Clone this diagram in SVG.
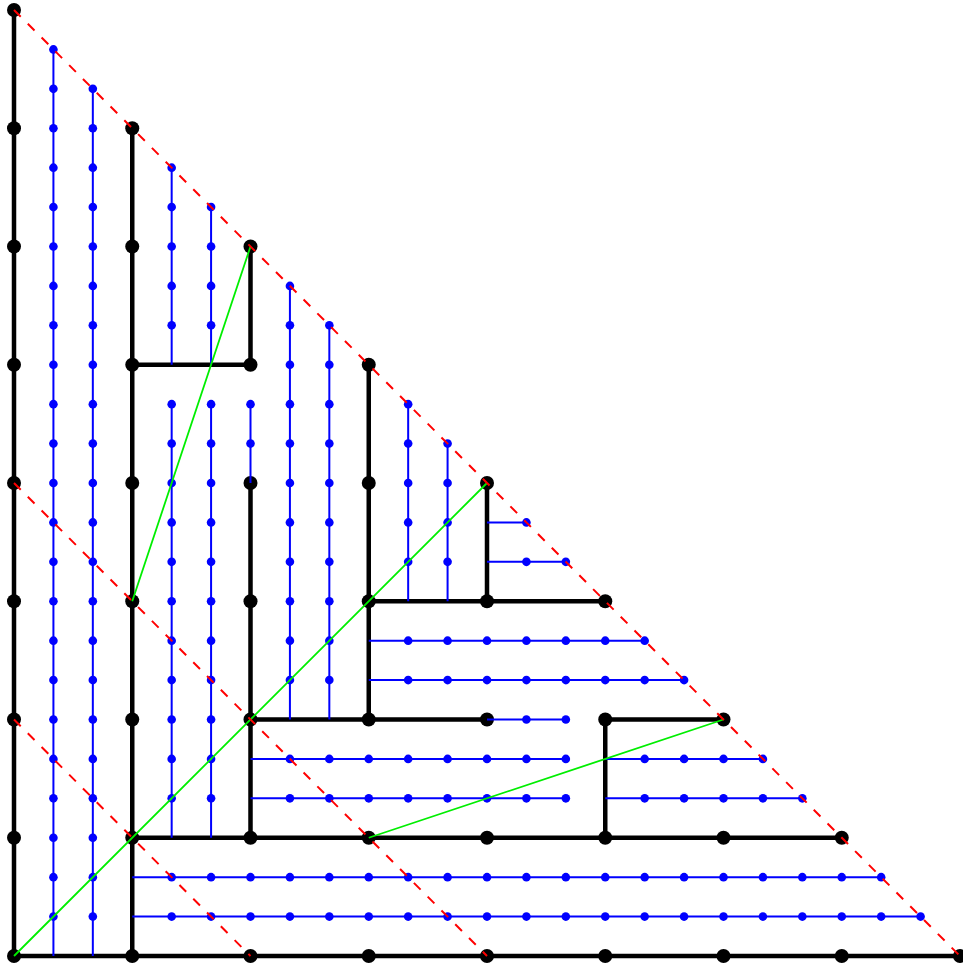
<svg xmlns="http://www.w3.org/2000/svg" width="963" height="968" viewBox="0 0 963 968">
<style>
.blk{stroke:#000;stroke-width:4.5;fill:none;stroke-linecap:butt}
.bd{fill:#000}
.blu{stroke:#0000ff;stroke-width:2;fill:none}
.sd{fill:#0000ff}
.grn{stroke:#00ee00;stroke-width:1.8;fill:none}
.red{stroke:#ff0000;stroke-width:2;fill:none;stroke-dasharray:9.5 10}
</style>
<rect width="963" height="968" fill="#fff"/>
<g id="black-lines">
<path class="blk" d="M14,956V10 M14,956H960 M132.25,956V128.25 M132.25,364.75H250.5V246.5 M250.5,837.75V483 M132.25,837.75H841.75 M368.75,719.5V364.75 M368.75,601.25H605.25 M487,601.25V483 M250.5,719.5H487 M605.25,837.75V719.5H723.5"/>
</g>
<g id="black-dots" class="bd">
<circle cx="14" cy="956" r="7"/><circle cx="14" cy="837.75" r="7"/><circle cx="14" cy="719.5" r="7"/><circle cx="14" cy="601.25" r="7"/><circle cx="14" cy="483" r="7"/><circle cx="14" cy="364.75" r="7"/><circle cx="14" cy="246.5" r="7"/><circle cx="14" cy="128.25" r="7"/><circle cx="14" cy="10" r="7"/>
<circle cx="132.25" cy="956" r="7"/><circle cx="250.5" cy="956" r="7"/><circle cx="368.75" cy="956" r="7"/><circle cx="487" cy="956" r="7"/><circle cx="605.25" cy="956" r="7"/><circle cx="723.5" cy="956" r="7"/><circle cx="841.75" cy="956" r="7"/><circle cx="960" cy="956" r="7"/>
<circle cx="132.25" cy="837.75" r="7"/><circle cx="132.25" cy="719.5" r="7"/><circle cx="132.25" cy="601.25" r="7"/><circle cx="132.25" cy="483" r="7"/><circle cx="132.25" cy="364.75" r="7"/><circle cx="132.25" cy="246.5" r="7"/><circle cx="132.25" cy="128.25" r="7"/>
<circle cx="250.5" cy="364.75" r="7"/><circle cx="250.5" cy="246.5" r="7"/>
<circle cx="250.5" cy="837.75" r="7"/><circle cx="250.5" cy="719.5" r="7"/><circle cx="250.5" cy="601.25" r="7"/><circle cx="250.5" cy="483" r="7"/>
<circle cx="368.75" cy="837.75" r="7"/><circle cx="487" cy="837.75" r="7"/><circle cx="605.25" cy="837.75" r="7"/><circle cx="723.5" cy="837.75" r="7"/><circle cx="841.75" cy="837.75" r="7"/>
<circle cx="368.75" cy="719.5" r="7"/><circle cx="368.75" cy="601.25" r="7"/><circle cx="368.75" cy="483" r="7"/><circle cx="368.75" cy="364.75" r="7"/>
<circle cx="487" cy="601.25" r="7"/><circle cx="605.25" cy="601.25" r="7"/><circle cx="487" cy="483" r="7"/>
<circle cx="487" cy="719.5" r="7"/><circle cx="605.25" cy="719.5" r="7"/><circle cx="723.5" cy="719.5" r="7"/>
</g>
<g id="blue-lines">
<path class="blu" d="M53.42,956V49.42 M92.83,956V88.83 M171.67,364.75V167.67 M171.67,837.75V404.17 M211.08,364.75V207.08 M211.08,837.75V404.17 M250.5,483V404.17 M289.92,719.5V285.92 M329.33,719.5V325.33 M408.17,601.25V404.17 M447.58,601.25V443.58 M487,522.42H526.42 M487,561.83H565.83 M368.75,640.67H644.67 M368.75,680.08H684.08 M487,719.5H565.83 M250.5,758.92H565.83 M605.25,758.92H762.92 M250.5,798.33H565.83 M605.25,798.33H802.33 M132.25,877.17H881.17 M132.25,916.58H920.58"/>
</g>
<g id="blue-dots" class="sd">
<circle cx="53.42" cy="916.58" r="4.3"/><circle cx="53.42" cy="877.17" r="4.3"/><circle cx="53.42" cy="837.75" r="4.3"/><circle cx="53.42" cy="798.33" r="4.3"/><circle cx="53.42" cy="758.92" r="4.3"/><circle cx="53.42" cy="719.5" r="4.3"/><circle cx="53.42" cy="680.08" r="4.3"/><circle cx="53.42" cy="640.67" r="4.3"/><circle cx="53.42" cy="601.25" r="4.3"/><circle cx="53.42" cy="561.83" r="4.3"/><circle cx="53.42" cy="522.42" r="4.3"/><circle cx="53.42" cy="483" r="4.3"/><circle cx="53.42" cy="443.58" r="4.3"/><circle cx="53.42" cy="404.17" r="4.3"/><circle cx="53.42" cy="364.75" r="4.3"/><circle cx="53.42" cy="325.33" r="4.3"/><circle cx="53.42" cy="285.92" r="4.3"/><circle cx="53.42" cy="246.5" r="4.3"/><circle cx="53.42" cy="207.08" r="4.3"/><circle cx="53.42" cy="167.67" r="4.3"/><circle cx="53.42" cy="128.25" r="4.3"/><circle cx="53.42" cy="88.83" r="4.3"/><circle cx="53.42" cy="49.42" r="4.3"/>
<circle cx="92.83" cy="916.58" r="4.3"/><circle cx="92.83" cy="877.17" r="4.3"/><circle cx="92.83" cy="837.75" r="4.3"/><circle cx="92.83" cy="798.33" r="4.3"/><circle cx="92.83" cy="758.92" r="4.3"/><circle cx="92.83" cy="719.5" r="4.3"/><circle cx="92.83" cy="680.08" r="4.3"/><circle cx="92.83" cy="640.67" r="4.3"/><circle cx="92.83" cy="601.25" r="4.3"/><circle cx="92.83" cy="561.83" r="4.3"/><circle cx="92.83" cy="522.42" r="4.3"/><circle cx="92.83" cy="483" r="4.3"/><circle cx="92.83" cy="443.58" r="4.3"/><circle cx="92.83" cy="404.17" r="4.3"/><circle cx="92.83" cy="364.75" r="4.3"/><circle cx="92.83" cy="325.33" r="4.3"/><circle cx="92.83" cy="285.92" r="4.3"/><circle cx="92.83" cy="246.5" r="4.3"/><circle cx="92.83" cy="207.08" r="4.3"/><circle cx="92.83" cy="167.67" r="4.3"/><circle cx="92.83" cy="128.25" r="4.3"/><circle cx="92.83" cy="88.83" r="4.3"/>
<circle cx="171.67" cy="798.33" r="4.3"/><circle cx="171.67" cy="758.92" r="4.3"/><circle cx="171.67" cy="719.5" r="4.3"/><circle cx="171.67" cy="680.08" r="4.3"/><circle cx="171.67" cy="640.67" r="4.3"/><circle cx="171.67" cy="601.25" r="4.3"/><circle cx="171.67" cy="561.83" r="4.3"/><circle cx="171.67" cy="522.42" r="4.3"/><circle cx="171.67" cy="483" r="4.3"/><circle cx="171.67" cy="443.58" r="4.3"/><circle cx="171.67" cy="404.17" r="4.3"/><circle cx="171.67" cy="325.33" r="4.3"/><circle cx="171.67" cy="285.92" r="4.3"/><circle cx="171.67" cy="246.5" r="4.3"/><circle cx="171.67" cy="207.08" r="4.3"/><circle cx="171.67" cy="167.67" r="4.3"/>
<circle cx="211.08" cy="798.33" r="4.3"/><circle cx="211.08" cy="758.92" r="4.3"/><circle cx="211.08" cy="719.5" r="4.3"/><circle cx="211.08" cy="680.08" r="4.3"/><circle cx="211.08" cy="640.67" r="4.3"/><circle cx="211.08" cy="601.25" r="4.3"/><circle cx="211.08" cy="561.83" r="4.3"/><circle cx="211.08" cy="522.42" r="4.3"/><circle cx="211.08" cy="483" r="4.3"/><circle cx="211.08" cy="443.58" r="4.3"/><circle cx="211.08" cy="404.17" r="4.3"/><circle cx="211.08" cy="325.33" r="4.3"/><circle cx="211.08" cy="285.92" r="4.3"/><circle cx="211.08" cy="246.5" r="4.3"/><circle cx="211.08" cy="207.08" r="4.3"/>
<circle cx="250.5" cy="443.58" r="4.3"/><circle cx="250.5" cy="404.17" r="4.3"/>
<circle cx="289.92" cy="680.08" r="4.3"/><circle cx="289.92" cy="640.67" r="4.3"/><circle cx="289.92" cy="601.25" r="4.3"/><circle cx="289.92" cy="561.83" r="4.3"/><circle cx="289.92" cy="522.42" r="4.3"/><circle cx="289.92" cy="483" r="4.3"/><circle cx="289.92" cy="443.58" r="4.3"/><circle cx="289.92" cy="404.17" r="4.3"/><circle cx="289.92" cy="364.75" r="4.3"/><circle cx="289.92" cy="325.33" r="4.3"/><circle cx="289.92" cy="285.92" r="4.3"/>
<circle cx="329.33" cy="680.08" r="4.3"/><circle cx="329.33" cy="640.67" r="4.3"/><circle cx="329.33" cy="601.25" r="4.3"/><circle cx="329.33" cy="561.83" r="4.3"/><circle cx="329.33" cy="522.42" r="4.3"/><circle cx="329.33" cy="483" r="4.3"/><circle cx="329.33" cy="443.58" r="4.3"/><circle cx="329.33" cy="404.17" r="4.3"/><circle cx="329.33" cy="364.75" r="4.3"/><circle cx="329.33" cy="325.33" r="4.3"/>
<circle cx="408.17" cy="561.83" r="4.3"/><circle cx="408.17" cy="522.42" r="4.3"/><circle cx="408.17" cy="483" r="4.3"/><circle cx="408.17" cy="443.58" r="4.3"/><circle cx="408.17" cy="404.17" r="4.3"/>
<circle cx="447.58" cy="561.83" r="4.3"/><circle cx="447.58" cy="522.42" r="4.3"/><circle cx="447.58" cy="483" r="4.3"/><circle cx="447.58" cy="443.58" r="4.3"/>
<circle cx="526.42" cy="522.42" r="4.3"/>
<circle cx="526.42" cy="561.83" r="4.3"/><circle cx="565.83" cy="561.83" r="4.3"/>
<circle cx="408.17" cy="640.67" r="4.3"/><circle cx="447.58" cy="640.67" r="4.3"/><circle cx="487" cy="640.67" r="4.3"/><circle cx="526.42" cy="640.67" r="4.3"/><circle cx="565.83" cy="640.67" r="4.3"/><circle cx="605.25" cy="640.67" r="4.3"/><circle cx="644.67" cy="640.67" r="4.3"/>
<circle cx="408.17" cy="680.08" r="4.3"/><circle cx="447.58" cy="680.08" r="4.3"/><circle cx="487" cy="680.08" r="4.3"/><circle cx="526.42" cy="680.08" r="4.3"/><circle cx="565.83" cy="680.08" r="4.3"/><circle cx="605.25" cy="680.08" r="4.3"/><circle cx="644.67" cy="680.08" r="4.3"/><circle cx="684.08" cy="680.08" r="4.3"/>
<circle cx="526.42" cy="719.5" r="4.3"/><circle cx="565.83" cy="719.5" r="4.3"/>
<circle cx="289.92" cy="758.92" r="4.3"/><circle cx="329.33" cy="758.92" r="4.3"/><circle cx="368.75" cy="758.92" r="4.3"/><circle cx="408.17" cy="758.92" r="4.3"/><circle cx="447.58" cy="758.92" r="4.3"/><circle cx="487" cy="758.92" r="4.3"/><circle cx="526.42" cy="758.92" r="4.3"/><circle cx="565.83" cy="758.92" r="4.3"/><circle cx="644.67" cy="758.92" r="4.3"/><circle cx="684.08" cy="758.92" r="4.3"/><circle cx="723.5" cy="758.92" r="4.3"/><circle cx="762.92" cy="758.92" r="4.3"/>
<circle cx="289.92" cy="798.33" r="4.3"/><circle cx="329.33" cy="798.33" r="4.3"/><circle cx="368.75" cy="798.33" r="4.3"/><circle cx="408.17" cy="798.33" r="4.3"/><circle cx="447.58" cy="798.33" r="4.3"/><circle cx="487" cy="798.33" r="4.3"/><circle cx="526.42" cy="798.33" r="4.3"/><circle cx="565.83" cy="798.33" r="4.3"/><circle cx="644.67" cy="798.33" r="4.3"/><circle cx="684.08" cy="798.33" r="4.3"/><circle cx="723.5" cy="798.33" r="4.3"/><circle cx="762.92" cy="798.33" r="4.3"/><circle cx="802.33" cy="798.33" r="4.3"/>
<circle cx="171.67" cy="877.17" r="4.3"/><circle cx="211.08" cy="877.17" r="4.3"/><circle cx="250.5" cy="877.17" r="4.3"/><circle cx="289.92" cy="877.17" r="4.3"/><circle cx="329.33" cy="877.17" r="4.3"/><circle cx="368.75" cy="877.17" r="4.3"/><circle cx="408.17" cy="877.17" r="4.3"/><circle cx="447.58" cy="877.17" r="4.3"/><circle cx="487" cy="877.17" r="4.3"/><circle cx="526.42" cy="877.17" r="4.3"/><circle cx="565.83" cy="877.17" r="4.3"/><circle cx="605.25" cy="877.17" r="4.3"/><circle cx="644.67" cy="877.17" r="4.3"/><circle cx="684.08" cy="877.17" r="4.3"/><circle cx="723.5" cy="877.17" r="4.3"/><circle cx="762.92" cy="877.17" r="4.3"/><circle cx="802.33" cy="877.17" r="4.3"/><circle cx="841.75" cy="877.17" r="4.3"/><circle cx="881.17" cy="877.17" r="4.3"/>
<circle cx="171.67" cy="916.58" r="4.3"/><circle cx="211.08" cy="916.58" r="4.3"/><circle cx="250.5" cy="916.58" r="4.3"/><circle cx="289.92" cy="916.58" r="4.3"/><circle cx="329.33" cy="916.58" r="4.3"/><circle cx="368.75" cy="916.58" r="4.3"/><circle cx="408.17" cy="916.58" r="4.3"/><circle cx="447.58" cy="916.58" r="4.3"/><circle cx="487" cy="916.58" r="4.3"/><circle cx="526.42" cy="916.58" r="4.3"/><circle cx="565.83" cy="916.58" r="4.3"/><circle cx="605.25" cy="916.58" r="4.3"/><circle cx="644.67" cy="916.58" r="4.3"/><circle cx="684.08" cy="916.58" r="4.3"/><circle cx="723.5" cy="916.58" r="4.3"/><circle cx="762.92" cy="916.58" r="4.3"/><circle cx="802.33" cy="916.58" r="4.3"/><circle cx="841.75" cy="916.58" r="4.3"/><circle cx="881.17" cy="916.58" r="4.3"/><circle cx="920.58" cy="916.58" r="4.3"/>
</g>
<g id="green-lines">
<path class="grn" d="M250.5,246.5L132.25,601.25 M14,956L487,483 M368.75,837.75L723.5,719.5"/>
</g>
<g id="red-dashed">
<path class="red" d="M14,10L960,956 M14,483L487,956 M14,719.5L250.5,956"/>
</g>
</svg>
